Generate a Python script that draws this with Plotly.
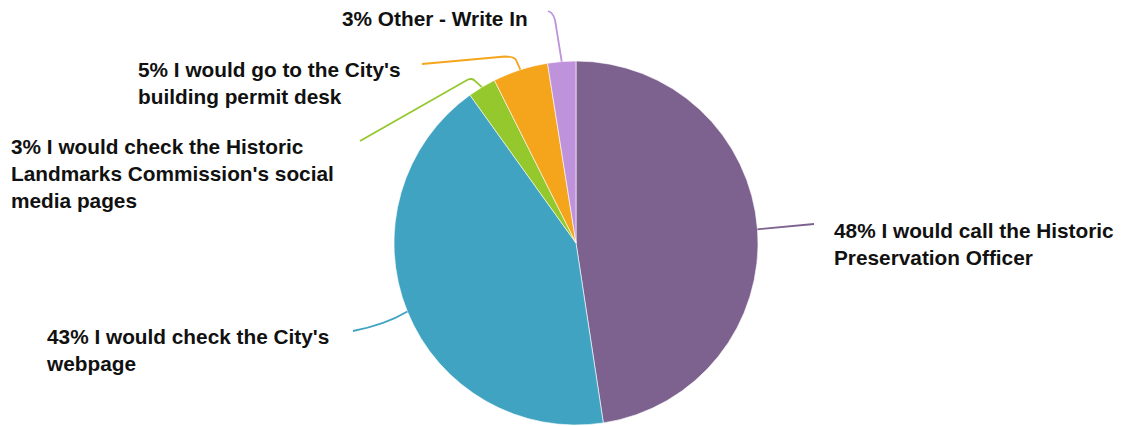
import math
import plotly.graph_objects as go

# ---- data ----
categories = [
    "I would call the Historic<br>Preservation Officer",
    "I would check the City's<br>webpage",
    "I would check the Historic<br>Landmarks Commission's social<br>media pages",
    "I would go to the City's<br>building permit desk",
    "Other - Write In",
]
values = [47.6, 42.5, 2.5, 4.9, 2.5]
pct_labels = [48, 43, 3, 5, 3]
colors = ["#7D618F", "#40A3C2", "#94C82C", "#F4A51C", "#BF93DB"]

# ---- layout geometry (pixels in the screenshot) ----
W, H = 1125, 426
OFF = 8  # page body margin
cx, cy, R = 576, 243, 182


def px(x):
    return (x - OFF) / W


def py(y):
    return 1 - (y - OFF) / H


# label block anchors (left x, vertical centre y)
label_pos = [(832, 244.5), (44, 349.5), (9, 173.5), (136, 83.5), (340, 18)]
# leader line waypoints after the slice edge point
leader_tail = [
    "L 814,224",
    "Q 385,325 353,331",
    "L 475,81 Q 473,78 468,79.5 L 360,141",
    "L 516,60 Q 514,56.5 505,56.5 L 422,64",
    "L 556,26 Q 555,13 548,11",
]

fig = go.Figure()
fig.add_trace(go.Pie(
    labels=[c.replace("<br>", " ") for c in categories],
    values=values,
    marker=dict(colors=colors, line=dict(color="white", width=0.6)),
    sort=False,
    direction="clockwise",
    rotation=0,
    textinfo="none",
    hoverinfo="skip",
    showlegend=False,
    domain=dict(x=[px(cx - R), px(cx + R)], y=[py(cy + R), py(cy - R)]),
))

total = sum(values)
cum = 0.0
shapes = []
annotations = []
for i, v in enumerate(values):
    mid = (cum + v / 2) / total * 2 * math.pi
    cum += v
    sx = cx + R * math.sin(mid)
    sy = cy - R * math.cos(mid)
    path_px = f"M {sx:.1f},{sy:.1f} " + leader_tail[i]
    toks = path_px.replace(",", " ").split()
    out = []
    nums = []
    for t in toks:
        if t.isalpha():
            out.append(t)
        else:
            nums.append(float(t))
            if len(nums) == 2:
                out.append(f"{px(nums[0]):.5f},{py(nums[1]):.5f}")
                nums = []
    shapes.append(dict(type="path", xref="paper", yref="paper",
                       path=" ".join(out),
                       line=dict(color=colors[i], width=1.8)))
    lx, ly = label_pos[i]
    annotations.append(dict(
        x=px(lx), y=py(ly), xref="paper", yref="paper",
        xanchor="left", yanchor="middle", align="left",
        text=f"<b>{pct_labels[i]}% {categories[i]}</b>",
        showarrow=False,
        font=dict(family="Liberation Sans, Arial, sans-serif", size=20.8, color="#111111"),
    ))

fig.update_layout(
    width=W, height=H,
    margin=dict(l=0, r=0, t=0, b=0),
    paper_bgcolor="white",
    plot_bgcolor="white",
    shapes=shapes,
    annotations=annotations,
)
fig.write_html("out.html")
